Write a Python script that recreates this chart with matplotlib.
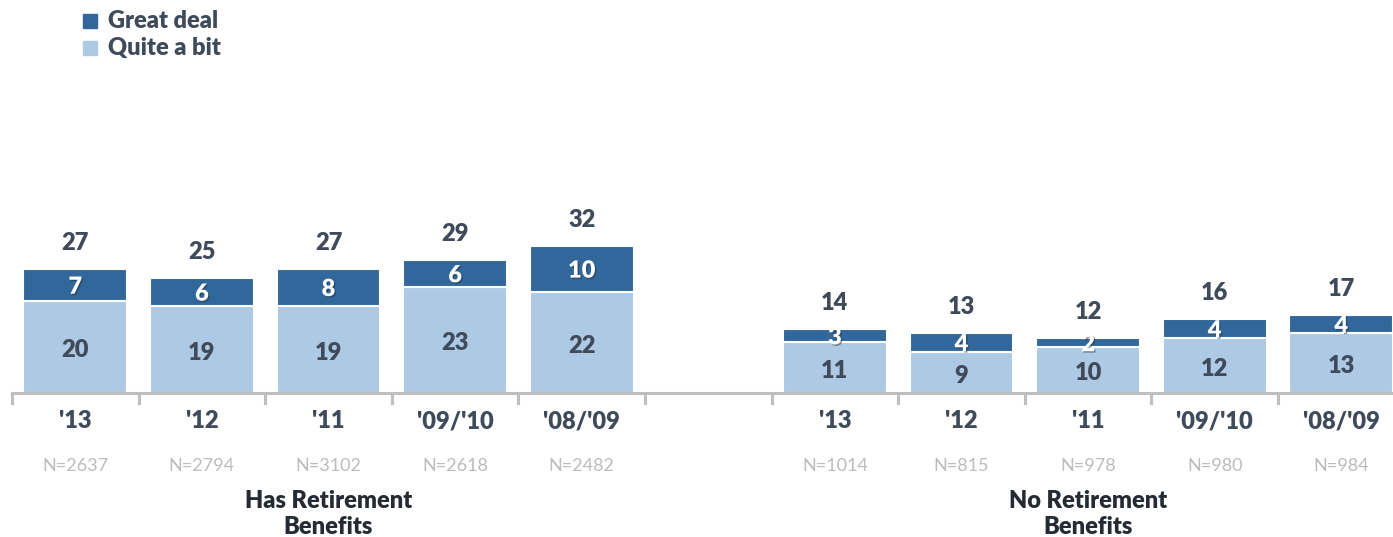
import matplotlib
matplotlib.use("Agg")
import matplotlib.pyplot as plt
import matplotlib.patheffects as pe
from matplotlib.transforms import blended_transform_factory
from matplotlib.patches import Rectangle

plt.rcParams['font.family'] = ['Lato', 'DejaVu Sans']

# Data
years = ["'13", "'12", "'11", "'09/'10", "'08/'09"]
has_great = [7, 6, 8, 6, 10]
has_quite = [20, 19, 19, 23, 22]
has_n = [2637, 2794, 3102, 2618, 2482]
no_great = [3, 4, 2, 4, 4]
no_quite = [11, 9, 10, 12, 13]
no_n = [1014, 815, 978, 980, 984]
groups = ["Has Retirement\nBenefits", "No Retirement\nBenefits"]
series_names = ["Great deal", "Quite a bit"]

DARK = "#32679b"
LIGHT = "#adc9e4"
TEXT = "#3f4b5b"
NGRAY = "#bcbcbc"
AXIS = "#bfbfbf"
WEIGHT = 'heavy'

W, H = 1393, 537
fig = plt.figure(figsize=(W / 100, H / 100), dpi=100)

slot = 126.6
left_px, axis_px = 12, 393
ax = fig.add_axes([left_px / W, (H - axis_px) / H, (W - left_px) / W, axis_px / H])
ax.set_xlim(-0.5, -0.5 + (W - left_px) / slot)
ax.set_ylim(0, axis_px / 4.6)
ax.axis('off')

positions = list(range(5)) + list(range(6, 11))
great = has_great + no_great
quite = has_quite + no_quite
ns = has_n + no_n
labels = years + years

bw = 0.82
ax.bar(positions, quite, width=bw, color=LIGHT, edgecolor='white', linewidth=1.5, zorder=2)
ax.bar(positions, great, width=bw, bottom=quite, color=DARK, edgecolor='white', linewidth=1.5, zorder=2)

shadow = [pe.withSimplePatchShadow(offset=(1, -1), shadow_rgbFace='#1a2a3a', alpha=0.45)]
px_per_unit = 4.6
for x, q, g in zip(positions, quite, great):
    ax.text(x, q / 2 - 0.7, f"{q}", ha='center', va='center', fontsize=17,
            fontweight=WEIGHT, color=TEXT, zorder=3)
    ax.text(x, q + g / 2 - 0.4, f"{g}", ha='center', va='center', fontsize=17,
            fontweight=WEIGHT, color='white', zorder=3, path_effects=shadow)
    ax.text(x, q + g + 26 / px_per_unit, f"{q + g}", ha='center', va='center',
            fontsize=17, fontweight=WEIGHT, color=TEXT, zorder=3)

# Category axis line with boundary ticks
tr = blended_transform_factory(ax.transData, fig.transFigure)
yline = (H - axis_px) / H
ax.plot([-0.5, 11], [yline, yline], transform=tr, color=AXIS, lw=2.2,
        clip_on=False, solid_capstyle='butt')
for b in range(12):
    ax.plot([b - 0.5, b - 0.5], [yline, (H - 403) / H], transform=tr,
            color=AXIS, lw=2.2, clip_on=False)

for x, n, lab in zip(positions, ns, labels):
    ax.text(x, (H - 421) / H, lab, transform=tr, ha='center', va='center',
            fontsize=17, fontweight=WEIGHT, color=TEXT, clip_on=False)
    ax.text(x, (H - 466) / H, f"N={n}", transform=tr, ha='center', va='center',
            fontsize=13, color=NGRAY, clip_on=False)

for gx, g in zip([2, 8], groups):
    ax.text(gx, (H - 514) / H, g, transform=tr, ha='center', va='center',
            fontsize=17, fontweight=WEIGHT, color='#262b33', linespacing=1.2,
            clip_on=False)

# Legend
for i, (name, col) in enumerate(zip(series_names, [DARK, LIGHT])):
    yc = 21 + 27 * i
    fig.patches.append(Rectangle((83 / W, (H - yc - 7) / H), 14 / W, 14 / H,
                                 transform=fig.transFigure, color=col, figure=fig))
    fig.text(108 / W, (H - yc) / H, name, ha='left', va='center', fontsize=17,
             fontweight=WEIGHT, color=TEXT)

fig.savefig("out.png", dpi=100)
